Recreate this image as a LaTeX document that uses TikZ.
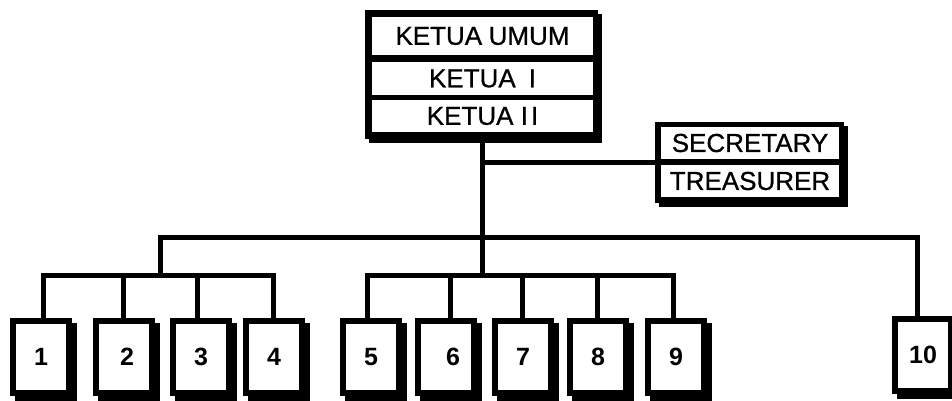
\documentclass[tikz,border=0pt]{standalone}
\usepackage{fontspec}
\setmainfont{Liberation Sans}
\newfontfamily\hv[FakeBold=0.8]{Liberation Sans}
\newfontfamily\hvb{Liberation Sans Bold}
\usetikzlibrary{backgrounds}
\begin{document}
\begin{tikzpicture}[x=1pt,y=-1pt,
  conn/.style={line width=5pt, line join=miter},
  sbox/.style={draw, line width=6pt, fill=white, minimum width=56pt, minimum height=72pt, inner sep=0pt,
    font=\hvb\fontsize{25}{25}\selectfont,
    preaction={draw, fill=black, transform canvas={shift={(5pt,-5pt)}}}},
  rowbox/.style={fill=white, inner sep=0pt, minimum width=221pt, font=\hv\fontsize{26}{26}\selectfont},
  srow/.style={fill=white, inner sep=0pt, minimum width=178pt, minimum height=32pt, font=\hv\fontsize{26}{26}\selectfont}]
\useasboundingbox (0,0) rectangle (952,401);

% top box
\fill (369,14) rectangle (602,143);
\fill (365,10) rectangle (598,139);
\node[rowbox, minimum height=38pt] (umum) at (482.5,36) {KETUA\hspace{0.25em}UMUM};
\node[rowbox, minimum height=33pt] (k1) at (482.5,78.5) {KETUA\hspace{0.5em}I};
\node[rowbox, minimum height=32pt] (k2) at (482.5,116) {KETUA I\kern3pt I};

% secretary / treasurer
\fill (659,126) rectangle (848,207);
\fill (655,122) rectangle (844,203);
\node[srow] (sec) at (750,143) {SECRETARY};
\node[srow] (tre) at (750,181) {TREASURER};

% small boxes
\node[sbox] (n1) at (41,357) {1\hspace{6pt}};
\node[sbox] (n2) at (124,357) {\hspace{6pt}2};
\node[sbox] (n3) at (201,357) {3\hspace{6pt}};
\node[sbox] (n4) at (274,357) {4};
\node[sbox] (n5) at (371,357) {5};
\node[sbox] (n6) at (446,357) {\hspace{14pt}6};
\node[sbox] (n7) at (523,357) {7};
\node[sbox] (n8) at (598,357) {8};
\node[sbox] (n9) at (676,357) {9};
\node[sbox] (n10) at (923,355) {10};

\coordinate (jsec) at (482.5,162);
\coordinate (jmid) at (482.5,275);
\coordinate (mainL) at (160,237);
\coordinate (mainR) at (917,237);
\coordinate (jleft) at (160,275);
\coordinate (b1) at (43,275);
\coordinate (b2) at (123,275);
\coordinate (b3) at (197,275);
\coordinate (b4) at (273,275);
\coordinate (b5) at (367,275);
\coordinate (b6) at (450,275);
\coordinate (b7) at (522,275);
\coordinate (b8) at (597,275);
\coordinate (b9) at (673,275);

\begin{scope}[on background layer]
\draw[conn] (k2.south) -- (jmid);
\draw[conn] (jsec) -- (sec.west |- jsec);
\draw[conn] (jleft) -- (mainL) -- (mainR) -- (mainR |- n10.north);
\draw[conn] (b1 |- n1.north) -- (b1) -- (b4) -- (b4 |- n4.north);
\draw[conn] (b2) -- (b2 |- n2.north);
\draw[conn] (b3) -- (b3 |- n3.north);
\draw[conn] (b5 |- n5.north) -- (b5) -- (b9) -- (b9 |- n9.north);
\draw[conn] (b6) -- (b6 |- n6.north);
\draw[conn] (b7) -- (b7 |- n7.north);
\draw[conn] (b8) -- (b8 |- n8.north);
\end{scope}
\end{tikzpicture}
\end{document}
